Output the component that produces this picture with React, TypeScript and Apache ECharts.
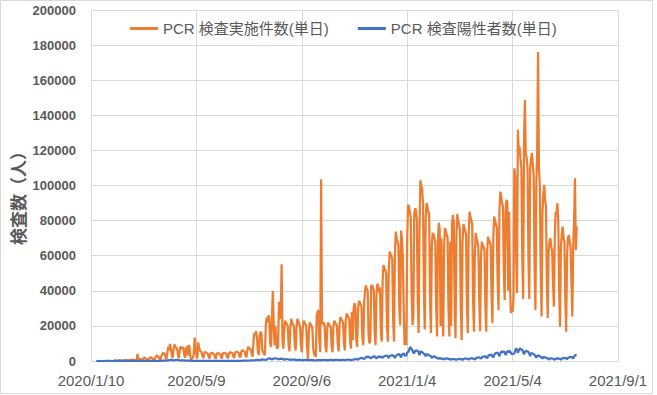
import React, { useEffect, useRef } from "react";
import * as echarts from "echarts";

// ---- Data ----
const axisStartDate = "2020/1/10";
const axisEndDate = "2021/9/1";
const tickIntervalDays = 120;
const yTicks = [0, 200000, 20000]; // min, max, interval

const seriesNames = ["PCR 検査実施件数(単日)", "PCR 検査陽性者数(単日)"];

// Daily PCR tests, starting 2020/2/5 (rows are Mon..Sun after the first partial row)
const pcrTestsStart = "2020/2/5";
const pcrTests = [
  300, 200, 300, 100, 100,
  300, 400, 300, 400, 300, 200, 100,
  400, 500, 400, 500, 400, 300, 200,
  600, 700, 800, 700, 600, 400, 300,
  900, 4000, 1000, 1200, 1100, 700, 500,
  1300, 1500, 2100, 1400, 1200, 800, 500,
  1400, 1600, 2300, 1700, 1500, 900, 600,
  1800, 2200, 3400, 2400, 2700, 1200, 700,
  2500, 3500, 4700, 4200, 4000, 1800, 1200,
  5000, 8200, 6000, 9700, 7000, 3500, 1800,
  6400, 9500, 8000, 7500, 7000, 3500, 1600,
  6000, 8200, 7500, 7000, 8000, 3800, 1800,
  7000, 8200, 3000, 9000, 8500, 3000, 500,
  1500, 2000, 4000, 13300, 8000, 3000, 1500,
  10500, 8000, 6000, 5500, 5000, 2500, 1500,
  4500, 5200, 4800, 4500, 4200, 2300, 1400,
  4000, 4800, 4500, 4300, 4000, 2200, 1300,
  3800, 4600, 4400, 4200, 4100, 2300, 1400,
  4000, 4800, 4600, 4400, 4200, 2400, 1500,
  4200, 5000, 4900, 4600, 4500, 2600, 1700,
  4600, 5400, 5200, 5000, 4800, 2800, 1900,
  5000, 6200, 5800, 5500, 5300, 3000, 2100,
  6000, 8200, 7000, 7000, 6500, 3500, 2500,
  11000, 16000, 15000, 17000, 13000, 5000, 3500,
  14000, 16500, 16000, 6000, 5000, 4000, 3500,
  20000, 24700, 22000, 26000, 24000, 10000, 8000,
  24000, 40000, 21000, 9000, 20000, 10000, 7000,
  8000, 33800, 30000, 24000, 55100, 12000, 7000,
  18000, 23000, 22000, 21000, 20000, 9000, 5500,
  19000, 24000, 22000, 21000, 20000, 9000, 6000,
  19000, 24000, 23000, 21000, 20000, 9000, 5000,
  18000, 23000, 22000, 21000, 20000, 8000, 300,
  16000, 22000, 21000, 20000, 19000, 7000, 4000,
  3000, 2500, 26000, 28000, 29000, 12000, 5000,
  103600, 22000, 21000, 22000, 20000, 8000, 5000,
  19000, 22000, 21000, 20000, 19000, 8000, 5000,
  20000, 23000, 22000, 21000, 20000, 9000, 5500,
  21000, 25000, 24000, 23000, 22000, 10000, 6000,
  23000, 27000, 26000, 25000, 24000, 11000, 7000,
  28000, 12000, 30000, 33000, 31000, 12000, 8000,
  29000, 34000, 33800, 32000, 31000, 13000, 9000,
  33000, 40000, 43000, 41000, 40000, 15000, 10000,
  12000, 43000, 43000, 42000, 40000, 16000, 9000,
  38000, 44000, 43000, 39000, 42000, 17000, 11000,
  45000, 54700, 53000, 52000, 50000, 20000, 11000,
  52000, 62300, 61000, 60000, 58000, 24000, 11000,
  60000, 73700, 70000, 68000, 66000, 30000, 20500,
  74300, 70000, 60000, 30000, 9000, 15000, 9000,
  70000, 89000, 88000, 85000, 82000, 40000, 20500,
  25000, 84000, 87000, 86000, 80000, 35000, 16000,
  75000, 103000, 100000, 98000, 90000, 40000, 18000,
  80000, 90000, 88000, 85000, 84000, 35000, 16000,
  65000, 73000, 72000, 70000, 68000, 30000, 14000,
  68000, 78700, 75000, 20000, 70000, 30000, 14000,
  65000, 75800, 74000, 72000, 70000, 30000, 14000,
  68000, 20000, 78000, 83200, 80000, 32000, 13000,
  70000, 83800, 80000, 78000, 75000, 30000, 12000,
  68000, 78000, 76000, 74000, 72000, 32000, 16000,
  72000, 85100, 82000, 80000, 78000, 35000, 16700,
  60000, 73000, 70000, 68000, 65000, 35000, 17000,
  60000, 68000, 66000, 65000, 63000, 32000, 16700,
  62000, 70800, 69000, 68000, 66000, 38000, 21600,
  70000, 82300, 80000, 78000, 76000, 45000, 29000,
  85000, 96500, 94000, 90000, 88000, 52000, 34800,
  85000, 91800, 90000, 40000, 85000, 45000, 27300,
  30000, 28000, 35000, 109800, 105000, 60000, 38700,
  131700, 120000, 122000, 115000, 110000, 60000, 35300,
  125000, 148800, 118000, 116000, 110000, 60000, 35300,
  110000, 115000, 118400, 112000, 105000, 55000, 29000,
  100000, 120000, 176000, 110000, 100000, 50000, 25300,
  85000, 95000, 100300, 92000, 88000, 45000, 24500,
  62000, 68000, 70000, 65000, 63000, 45000, 31000,
  70000, 85000, 84000, 89900, 80000, 40000, 19600,
  65000, 72000, 76600, 70000, 68000, 35000, 16700,
  60000, 70000, 71800, 68000, 65000, 45000, 25300,
  65000, 80000, 104100, 63300, 76600,
];

// Daily PCR positives, starting 2020/1/16
const positivesStart = "2020/1/16";
const positives = [
  1, 0, 0, 0,
  0, 0, 0, 1, 0, 1, 0,
  1, 2, 1, 2, 3, 1, 0,
  1, 0, 2, 5, 1, 3, 2,
  3, 5, 6, 8, 9, 10, 6,
  5, 8, 10, 12, 15, 14, 8,
  10, 14, 17, 20, 22, 18, 10,
  15, 18, 25, 28, 30, 32, 20,
  22, 30, 35, 38, 40, 35, 25,
  25, 30, 35, 40, 45, 50, 40,
  40, 60, 80, 100, 120, 110, 90,
  100, 180, 220, 250, 280, 300, 250,
  300, 350, 450, 500, 650, 700, 500,
  400, 450, 550, 580, 600, 580, 400,
  350, 400, 420, 400, 380, 350, 250,
  200, 250, 220, 200, 180, 150, 120,
  100, 120, 100, 90, 90, 80, 60,
  50, 60, 55, 50, 45, 40, 30,
  25, 30, 35, 30, 30, 25, 20,
  25, 30, 40, 35, 40, 45, 35,
  30, 40, 45, 50, 45, 50, 40,
  35, 40, 45, 50, 55, 55, 45,
  40, 50, 55, 60, 60, 55, 50,
  50, 60, 70, 80, 90, 110, 100,
  90, 120, 150, 180, 220, 250, 200,
  180, 250, 280, 300, 350, 400, 350,
  300, 400, 450, 550, 600, 650, 550,
  500, 650, 750, 900, 850, 800, 700,
  600, 900, 1100, 1300, 1500, 1400, 1200,
  900, 1200, 1350, 1450, 1550, 1450, 1300,
  900, 1100, 1200, 1250, 1300, 1200, 1000,
  700, 900, 1000, 1050, 1000, 900, 800,
  550, 750, 800, 850, 800, 750, 600,
  450, 600, 650, 620, 600, 550, 450,
  350, 500, 550, 600, 580, 550, 450,
  350, 500, 550, 600, 550, 500, 400,
  350, 400, 450, 550, 600, 550, 450,
  300, 500, 550, 600, 600, 550, 450,
  350, 500, 550, 600, 650, 600, 500,
  350, 550, 600, 650, 650, 600, 500,
  400, 550, 650, 700, 700, 650, 500,
  450, 600, 700, 800, 750, 700, 550,
  550, 700, 800, 1000, 1100, 1150, 950,
  800, 1200, 1500, 1650, 1700, 1600, 1450,
  1100, 1600, 2200, 2400, 2500, 2400, 2100,
  1500, 1700, 2000, 2500, 2600, 2600, 2000,
  1400, 2000, 2400, 2500, 2400, 2500, 2000,
  1900, 2300, 2800, 2900, 3000, 3000, 2400,
  1700, 2900, 3000, 3200, 3300, 3000, 2500,
  1700, 2800, 3200, 3600, 3700, 3900, 3000,
  2000, 3600, 3900, 4500, 3200, 3100, 3200,
  4900, 4900, 6000, 7500, 7800, 7000, 6000,
  4600, 4500, 5900, 5800, 6000, 5800, 4900,
  3300, 5300, 5300, 5100, 4600, 4000, 3900,
  2700, 3800, 3800, 3500, 3300, 3000, 2700,
  1800, 2300, 2600, 2600, 2300, 1900, 1700,
  1300, 1500, 1700, 1200, 1500, 1400, 1100,
  900, 1300, 1500, 1300, 1300, 1200, 1200,
  800, 900, 1100, 1100, 1100, 1000, 900,
  700, 900, 1200, 1200, 1100, 1100, 1000,
  700, 1100, 1300, 1300, 1300, 1300, 1100,
  800, 1200, 1500, 1500, 1500, 1400, 1100,
  900, 1300, 1900, 1900, 2000, 2000, 1700,
  1300, 2000, 2600, 2400, 2600, 2700, 2100,
  1500, 2700, 3400, 3300, 3500, 3600, 2700,
  2100, 3400, 4300, 4500, 4500, 4800, 4000,
  2700, 4300, 5200, 5500, 5100, 5500, 4600,
  3300, 4900, 5700, 4700, 5900, 5500, 4700,
  4000, 4000, 4100, 4300, 6000, 7200, 6500,
  4600, 6000, 7000, 7000, 6400, 6400, 5200,
  3700, 5200, 5700, 5800, 5300, 5200, 4200,
  2800, 4300, 4500, 4200, 3900, 3500, 2800,
  1800, 3000, 3000, 3000, 2700, 2400, 2000,
  1300, 2200, 2200, 1900, 1900, 1800, 1400,
  800, 1300, 1500, 1500, 1400, 1300, 1100,
  700, 1200, 1400, 1500, 1400, 1400, 1200,
  800, 1300, 1600, 1600, 1600, 1700, 1500,
  1000, 1800, 2000, 2200, 2200, 2400, 1900,
  1400, 2400, 3200, 3400, 3400,
];

const yAxisTitle = "検査数（人）";

// ---- Helpers ----
const DAY_MS = 86400000;
function parseDate(s: string): number {
  const [y, m, d] = s.split("/").map(Number);
  return Date.UTC(y, m - 1, d);
}
const axisStartMs = parseDate(axisStartDate);
function dayIndex(s: string): number {
  return Math.round((parseDate(s) - axisStartMs) / DAY_MS);
}
function toPairs(start: string, values: number[]): [number, number][] {
  const s = dayIndex(start);
  return values.map((v, i) => [s + i, v] as [number, number]);
}
function formatDay(d: number): string {
  const dt = new Date(axisStartMs + d * DAY_MS);
  return `${dt.getUTCFullYear()}/${dt.getUTCMonth() + 1}/${dt.getUTCDate()}`;
}

const FONT = "'Liberation Sans', Arial, 'Noto Sans CJK JP', sans-serif";
const TEXT_COLOR = "#595959";
const GRID_COLOR = "#d9d9d9";

export default function App() {
  const ref = useRef<HTMLDivElement>(null);

  useEffect(() => {
    if (!ref.current) return;
    const chart = echarts.init(ref.current, undefined, { renderer: "svg" });
    const option = {
      animation: false,
      backgroundColor: "#ffffff",
      grid: { left: 91, right: 39, top: 10, bottom: 34, containLabel: false },
      legend: {
        left: 125,
        top: 16,
        icon: "rect",
        itemWidth: 28,
        itemHeight: 3,
        itemGap: 29,
        data: seriesNames,
        textStyle: { fontSize: 15, color: TEXT_COLOR, fontFamily: FONT },
      },
      xAxis: {
        type: "value",
        min: 0,
        max: dayIndex(axisEndDate),
        interval: tickIntervalDays,
        axisLine: { show: true, lineStyle: { color: GRID_COLOR, width: 1 } },
        axisTick: { show: false },
        splitLine: { show: true, lineStyle: { color: GRID_COLOR, width: 1 } },
        axisLabel: {
          formatter: (v: number) => formatDay(v),
          color: TEXT_COLOR,
          fontSize: 15,
          fontFamily: FONT,
          margin: 12,
          showMinLabel: true,
          showMaxLabel: true,
        },
      },
      yAxis: {
        type: "value",
        min: yTicks[0],
        max: yTicks[1],
        interval: yTicks[2],
        axisLine: { show: false },
        axisTick: { show: false },
        splitLine: { show: true, lineStyle: { color: GRID_COLOR, width: 1 } },
        axisLabel: {
          formatter: (v: number) => String(v),
          color: TEXT_COLOR,
          fontSize: 13,
          fontWeight: "bold",
          fontFamily: FONT,
          margin: 15,
        },
      },
      series: [
        {
          name: seriesNames[0],
          type: "line",
          data: toPairs(pcrTestsStart, pcrTests),
          showSymbol: false,
          symbol: "none",
          lineStyle: { color: "#ED7D31", width: 2.25 },
          itemStyle: { color: "#ED7D31" },
        },
        {
          name: seriesNames[1],
          type: "line",
          data: toPairs(positivesStart, positives),
          showSymbol: false,
          symbol: "none",
          lineStyle: { color: "#4472C4", width: 2.25 },
          itemStyle: { color: "#4472C4" },
        },
      ],
      graphic: [
        {
          type: "rect",
          shape: { x: 0.5, y: 0.5, width: 652, height: 393 },
          style: { fill: "none", stroke: GRID_COLOR, lineWidth: 1 },
          silent: true,
        },
        {
          type: "text",
          x: 17,
          y: 194,
          rotation: Math.PI / 2,
          style: {
            text: yAxisTitle,
            fill: TEXT_COLOR,
            fontSize: 17,
            fontWeight: "bold",
            fontFamily: "'Noto Sans CJK JP', sans-serif",
            align: "center",
            verticalAlign: "middle",
          },
          silent: true,
        },
      ],
    };
    chart.setOption(option as any);
    return () => chart.dispose();
  }, []);

  return (
    <div
      ref={ref}
      style={{ position: "fixed", left: 0, top: 0, width: 657, height: 395, background: "#fff" }}
    />
  );
}
